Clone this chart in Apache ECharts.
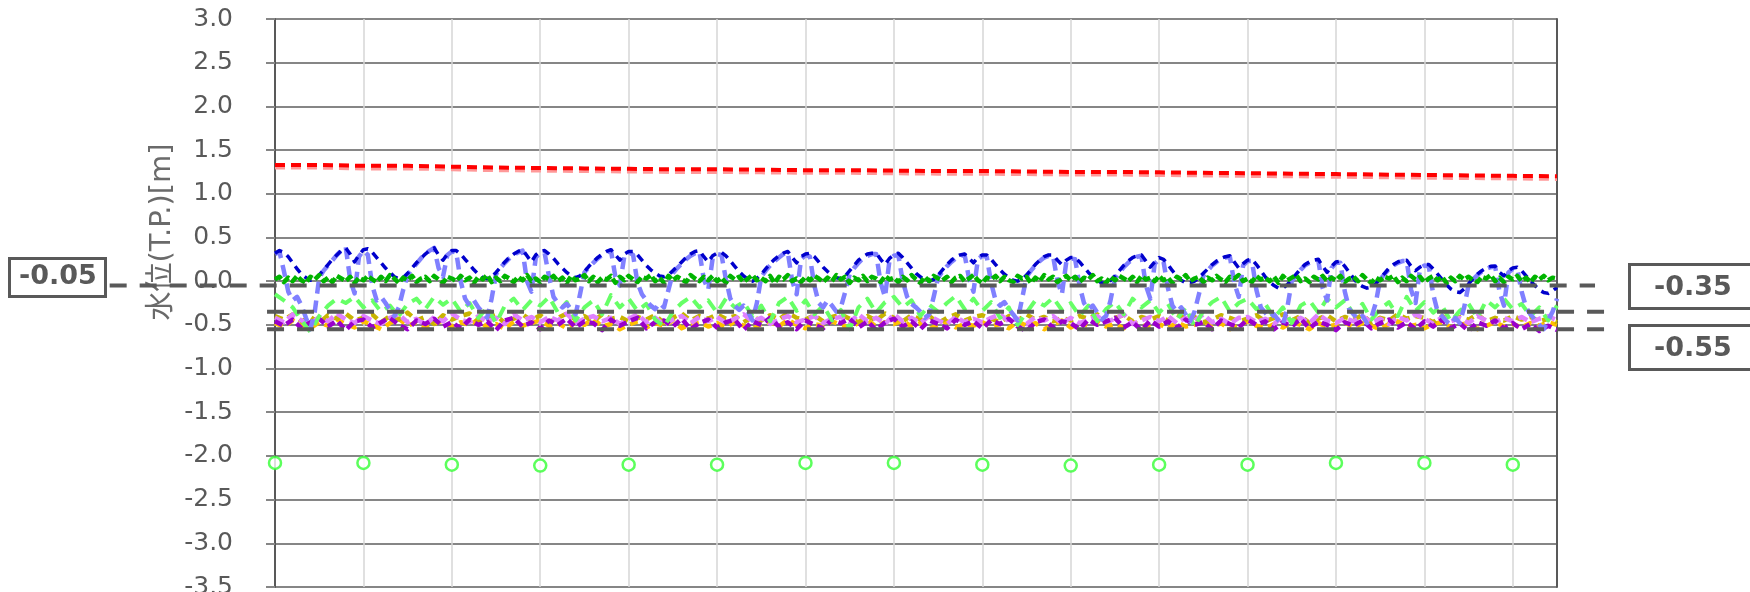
<!DOCTYPE html>
<html>
<head>
<meta charset="utf-8">
<script src="https://cdn.jsdelivr.net/npm/echarts@6/dist/echarts.min.js"></script>
<style>
  html, body { margin: 0; padding: 0; background: #ffffff; }
  #chart { width: 1750px; height: 592px; }
</style>
</head>
<body>
<div id="chart"></div>
<script>
// Sampling interval of the logged series, in days
const FINE_STEP = 0.05;
const COARSE_STEP = 0.1;
const DAILY_STEP = 0.5;

// Y axis range [m]
const Y_MIN = -3.5;
const Y_MAX = 3.0;
const Y_STEP = 0.5;
const X_DAYS = 14.5;
const AXIS_NAME = '水位(T.P.)[m]';

// Reference levels and the stretch (in days) each guide line covers
const refLevels = [-0.05, -0.35, -0.55];
const refSpans = [[-1.87, 14.93], [-0.09, 15.14], [-0.09, 15.14]];

// Upper station (red) and its companion gauge (pink), twice a day
const levelRed = [1.33, 1.33, 1.32, 1.32, 1.31, 1.30, 1.295, 1.29, 1.285, 1.28,
  1.28, 1.275, 1.27, 1.27, 1.265, 1.26, 1.26, 1.255, 1.25, 1.25,
  1.245, 1.24, 1.235, 1.23, 1.225, 1.22, 1.215, 1.21, 1.205, 1.20];
const levelPink = [1.30, 1.30, 1.29, 1.29, 1.28, 1.27, 1.265, 1.26, 1.255, 1.25,
  1.25, 1.245, 1.24, 1.24, 1.235, 1.23, 1.23, 1.225, 1.22, 1.22,
  1.215, 1.21, 1.205, 1.20, 1.195, 1.19, 1.185, 1.18, 1.175, 1.17];

// Tidal gauge (dark blue), every 0.05 day
const levelBlue = [
  0.32, 0.35, 0.33, 0.28, 0.21, 0.14, 0.08, 0.04, 0.01, 0.02, 0.07, 0.13, 0.19, 0.25, 0.30, 0.35, 0.38, 0.31, 0.22, 0.30,
  0.36, 0.37, 0.33, 0.27, 0.21, 0.15, 0.10, 0.05, 0.03, 0.04, 0.09, 0.15, 0.21, 0.26, 0.31, 0.35, 0.38, 0.30, 0.24, 0.31,
  0.35, 0.35, 0.31, 0.25, 0.19, 0.13, 0.08, 0.04, 0.03, 0.05, 0.10, 0.16, 0.22, 0.27, 0.31, 0.34, 0.36, 0.29, 0.22, 0.30,
  0.34, 0.35, 0.31, 0.26, 0.20, 0.15, 0.10, 0.06, 0.04, 0.06, 0.11, 0.17, 0.22, 0.27, 0.31, 0.34, 0.36, 0.30, 0.24, 0.31,
  0.34, 0.34, 0.30, 0.24, 0.18, 0.13, 0.09, 0.06, 0.05, 0.07, 0.12, 0.17, 0.22, 0.27, 0.31, 0.34, 0.35, 0.28, 0.22, 0.29,
  0.32, 0.33, 0.29, 0.23, 0.17, 0.11, 0.06, 0.02, 0.00, 0.03, 0.08, 0.14, 0.20, 0.25, 0.29, 0.32, 0.34, 0.27, 0.21, 0.28,
  0.31, 0.32, 0.28, 0.22, 0.16, 0.11, 0.07, 0.04, 0.03, 0.06, 0.12, 0.18, 0.24, 0.28, 0.31, 0.32, 0.32, 0.25, 0.19, 0.26,
  0.30, 0.32, 0.27, 0.21, 0.15, 0.09, 0.05, 0.01, 0.00, 0.02, 0.07, 0.13, 0.19, 0.24, 0.28, 0.30, 0.31, 0.26, 0.21, 0.27,
  0.30, 0.30, 0.25, 0.19, 0.13, 0.08, 0.04, 0.01, 0.00, 0.02, 0.07, 0.13, 0.19, 0.24, 0.28, 0.30, 0.30, 0.24, 0.19, 0.24,
  0.27, 0.27, 0.22, 0.16, 0.10, 0.05, 0.01, -0.02, -0.02, 0.01, 0.06, 0.12, 0.18, 0.23, 0.27, 0.29, 0.30, 0.23, 0.16, 0.22,
  0.27, 0.25, 0.19, 0.12, 0.06, 0.01, -0.02, -0.02, 0.00, 0.04, 0.09, 0.14, 0.19, 0.23, 0.26, 0.28, 0.29, 0.22, 0.15, 0.20,
  0.24, 0.25, 0.19, 0.12, 0.05, -0.01, -0.05, -0.08, -0.08, -0.04, 0.02, 0.08, 0.14, 0.19, 0.22, 0.24, 0.25, 0.17, 0.10, 0.17,
  0.22, 0.23, 0.17, 0.10, 0.03, -0.03, -0.06, -0.08, -0.07, -0.03, 0.03, 0.09, 0.15, 0.19, 0.22, 0.24, 0.24, 0.17, 0.12, 0.16,
  0.19, 0.19, 0.14, 0.08, 0.02, -0.04, -0.09, -0.12, -0.13, -0.09, -0.03, 0.03, 0.08, 0.12, 0.15, 0.17, 0.17, 0.10, 0.06, 0.12,
  0.15, 0.16, 0.12, 0.06, 0.00, -0.05, -0.10, -0.13, -0.14, -0.11, -0.07
];

// Inner harbour gauge (light blue), every 0.05 day
const levelLightBlue = [
  0.31, 0.34, 0.12, -0.12, -0.22, -0.18, -0.28, -0.42, -0.55, -0.35, 0.04, 0.12, 0.18, 0.24, 0.30, 0.35, 0.39, 0.02, -0.14, 0.28,
  0.35, 0.30, -0.05, -0.22, -0.18, -0.25, -0.33, -0.40, -0.30, -0.10, 0.07, 0.14, 0.20, 0.26, 0.31, 0.35, 0.38, 0.15, 0.05, 0.30,
  0.34, 0.33, 0.00, -0.20, -0.28, -0.22, -0.30, -0.36, -0.42, -0.20, 0.08, 0.15, 0.21, 0.26, 0.30, 0.33, 0.35, 0.00, -0.12, 0.27,
  0.33, 0.32, 0.05, -0.18, -0.25, -0.30, -0.26, -0.32, -0.38, -0.15, 0.10, 0.16, 0.21, 0.26, 0.30, 0.33, 0.35, 0.05, -0.05, 0.28,
  0.33, 0.30, -0.02, -0.15, -0.22, -0.28, -0.32, -0.25, -0.30, -0.10, 0.09, 0.15, 0.20, 0.25, 0.29, 0.32, 0.34, 0.02, -0.10, 0.26,
  0.31, 0.30, 0.02, -0.20, -0.28, -0.33, -0.28, -0.35, -0.45, -0.25, 0.05, 0.12, 0.18, 0.23, 0.27, 0.31, 0.33, 0.00, -0.15, 0.25,
  0.30, 0.28, -0.05, -0.25, -0.30, -0.22, -0.28, -0.35, -0.30, -0.12, 0.08, 0.15, 0.21, 0.26, 0.29, 0.31, 0.31, -0.02, -0.18, 0.24,
  0.29, 0.30, 0.00, -0.18, -0.26, -0.30, -0.35, -0.42, -0.38, -0.18, 0.04, 0.11, 0.17, 0.22, 0.26, 0.29, 0.30, 0.03, -0.12, 0.25,
  0.29, 0.28, -0.02, -0.22, -0.28, -0.24, -0.32, -0.38, -0.45, -0.20, 0.05, 0.12, 0.18, 0.23, 0.27, 0.29, 0.29, 0.00, -0.15, 0.22,
  0.26, 0.25, -0.05, -0.25, -0.32, -0.28, -0.36, -0.44, -0.40, -0.22, 0.03, 0.10, 0.16, 0.21, 0.25, 0.28, 0.29, -0.05, -0.20, 0.20,
  0.25, 0.22, -0.08, -0.28, -0.35, -0.30, -0.38, -0.46, -0.35, -0.15, 0.06, 0.12, 0.18, 0.22, 0.25, 0.27, 0.28, -0.02, -0.18, 0.18,
  0.23, 0.23, -0.10, -0.30, -0.36, -0.42, -0.38, -0.45, -0.50, -0.30, 0.00, 0.07, 0.13, 0.18, 0.21, 0.23, 0.24, -0.08, -0.22, 0.15,
  0.21, 0.21, -0.12, -0.32, -0.38, -0.44, -0.40, -0.48, -0.42, -0.25, 0.02, 0.08, 0.14, 0.18, 0.21, 0.23, 0.23, -0.10, -0.25, 0.14,
  0.18, 0.17, -0.15, -0.35, -0.40, -0.46, -0.50, -0.42, -0.48, -0.30, -0.04, 0.02, 0.07, 0.11, 0.14, 0.16, 0.17, -0.12, -0.28, 0.10,
  0.14, 0.14, -0.12, -0.30, -0.38, -0.44, -0.50, -0.55, -0.45, -0.35, -0.20
];

// Weir gauge (dark green), every 0.05 day
const levelGreen = [
  0.02, 0.05, -0.01, 0.04, 0.00, 0.06, 0.01, -0.02, 0.05, 0.02, 0.07, 0.00, 0.04, -0.01, 0.06, 0.03, 0.00, 0.05, -0.02, 0.04,
  0.01, 0.06, 0.02, -0.01, 0.05, 0.00, 0.07, 0.03, -0.02, 0.04, 0.01, 0.06, -0.01, 0.03, 0.05, 0.00, 0.06, 0.02, -0.02, 0.05,
  0.03, 0.00, 0.06, 0.01, 0.04, -0.02, 0.05, 0.02, 0.07, -0.01, 0.04, 0.00, 0.06, 0.03, -0.01, 0.05, 0.01, 0.07, 0.00, 0.03,
  -0.01, 0.05, 0.02, 0.06, 0.00, 0.04, -0.02, 0.06, 0.01, 0.03, 0.07, 0.00, 0.05, -0.01, 0.04, 0.02, 0.06, -0.02, 0.05, 0.01,
  0.06, 0.02, -0.01, 0.05, 0.03, 0.07, 0.00, 0.04, -0.02, 0.06, 0.01, 0.05, 0.02, -0.01, 0.07, 0.03, 0.00, 0.05, 0.01, 0.06,
  0.00, 0.04, -0.02, 0.06, 0.02, 0.05, -0.01, 0.03, 0.07, 0.01, 0.04, 0.00, 0.06, -0.02, 0.05, 0.02, 0.07, 0.00, 0.03, -0.01,
  0.05, 0.01, 0.06, 0.03, -0.01, 0.04, 0.00, 0.07, 0.02, 0.05, -0.02, 0.04, 0.01, 0.06, 0.00, 0.05, 0.03, -0.01, 0.06, 0.02,
  0.04, -0.01, 0.05, 0.01, 0.07, 0.02, -0.02, 0.05, 0.00, 0.06, 0.03, 0.01, 0.05, -0.01, 0.04, 0.06, 0.00, 0.03, 0.07, 0.01,
  -0.02, 0.04, 0.02, 0.06, 0.00, 0.05, 0.01, -0.01, 0.06, 0.03, 0.05, -0.02, 0.04, 0.00, 0.07, 0.02, 0.05, -0.01, 0.03, 0.06,
  0.01, 0.05, -0.01, 0.04, 0.02, 0.07, 0.00, 0.03, -0.02, 0.05, 0.01, 0.06, 0.03, 0.00, 0.05, -0.01, 0.06, 0.02, 0.04, 0.00,
  0.06, 0.01, 0.04, -0.02, 0.05, 0.02, 0.07, 0.00, 0.03, 0.05, -0.01, 0.04, 0.01, 0.06, 0.02, -0.01, 0.05, 0.03, 0.07, 0.00,
  0.03, -0.01, 0.06, 0.02, 0.04, 0.00, 0.05, -0.02, 0.06, 0.01, 0.04, 0.07, 0.00, 0.03, -0.01, 0.05, 0.02, 0.06, 0.00, 0.04,
  0.01, 0.06, -0.01, 0.03, 0.05, 0.00, 0.07, 0.02, -0.02, 0.04, 0.01, 0.05, 0.03, 0.06, -0.01, 0.04, 0.00, 0.06, 0.02, 0.05,
  -0.01, 0.03, 0.06, 0.01, 0.05, -0.02, 0.04, 0.00, 0.06, 0.02, 0.05, 0.01, -0.01, 0.05, 0.03, 0.07, 0.00, 0.04, -0.01, 0.05,
  0.02, 0.06, 0.00, 0.04, -0.01, 0.05, 0.02, 0.06, 0.01, 0.04, 0.03
];

// Drainage channel (light green), every 0.1 day
const levelLightGreen = [
  -0.15, -0.22, -0.30, -0.45, -0.58, -0.40, -0.28, -0.20, -0.25, -0.18,
  -0.30, -0.22, -0.35, -0.28, -0.40, -0.26, -0.20, -0.32, -0.18, -0.27,
  -0.20, -0.35, -0.25, -0.42, -0.30, -0.48, -0.28, -0.20, -0.33, -0.22,
  -0.28, -0.18, -0.36, -0.24, -0.45, -0.30, -0.22, -0.38, -0.16, -0.30,
  -0.20, -0.34, -0.26, -0.44, -0.52, -0.35, -0.25, -0.18, -0.30, -0.22,
  -0.36, -0.20, -0.30, -0.24, -0.40, -0.28, -0.46, -0.25, -0.18, -0.34,
  -0.22, -0.38, -0.28, -0.45, -0.33, -0.55, -0.30, -0.20, -0.36, -0.24,
  -0.18, -0.30, -0.22, -0.40, -0.27, -0.35, -0.25, -0.17, -0.32, -0.20,
  -0.34, -0.24, -0.42, -0.30, -0.50, -0.36, -0.22, -0.28, -0.19, -0.33,
  -0.25, -0.40, -0.28, -0.46, -0.32, -0.24, -0.38, -0.20, -0.30, -0.22,
  -0.36, -0.26, -0.44, -0.30, -0.52, -0.34, -0.24, -0.18, -0.35, -0.25,
  -0.20, -0.32, -0.26, -0.42, -0.30, -0.48, -0.28, -0.22, -0.36, -0.20,
  -0.30, -0.22, -0.38, -0.26, -0.44, -0.32, -0.24, -0.40, -0.18, -0.34,
  -0.24, -0.36, -0.28, -0.46, -0.34, -0.26, -0.42, -0.22, -0.30, -0.20,
  -0.32, -0.26, -0.40, -0.30, -0.45, -0.28
];

// Lowland gauges, every 0.1 day
const levelPurple = [
  -0.46, -0.51, -0.44, -0.54, -0.47, -0.43, -0.52, -0.45, -0.56, -0.46,
  -0.44, -0.53, -0.47, -0.42, -0.50, -0.55, -0.45, -0.49, -0.43, -0.52,
  -0.47, -0.54, -0.44, -0.50, -0.46, -0.56, -0.45, -0.42, -0.52, -0.47,
  -0.55, -0.45, -0.50, -0.43, -0.53, -0.46, -0.48, -0.56, -0.44, -0.51,
  -0.46, -0.42, -0.54, -0.47, -0.45, -0.52, -0.43, -0.55, -0.48, -0.44,
  -0.53, -0.47, -0.44, -0.56, -0.46, -0.50, -0.42, -0.52, -0.47, -0.55,
  -0.45, -0.50, -0.54, -0.44, -0.48, -0.43, -0.53, -0.46, -0.56, -0.47,
  -0.43, -0.52, -0.46, -0.55, -0.45, -0.49, -0.54, -0.44, -0.50, -0.46,
  -0.54, -0.45, -0.49, -0.43, -0.52, -0.57, -0.47, -0.44, -0.53, -0.46,
  -0.48, -0.55, -0.44, -0.50, -0.46, -0.42, -0.53, -0.47, -0.56, -0.45,
  -0.52, -0.46, -0.54, -0.44, -0.50, -0.47, -0.55, -0.45, -0.49, -0.53,
  -0.44, -0.50, -0.46, -0.55, -0.47, -0.52, -0.43, -0.54, -0.46, -0.50,
  -0.56, -0.47, -0.51, -0.45, -0.54, -0.48, -0.44, -0.53, -0.47, -0.55,
  -0.46, -0.52, -0.44, -0.54, -0.48, -0.57, -0.47, -0.51, -0.45, -0.54,
  -0.48, -0.55, -0.49, -0.57, -0.51, -0.56
];
const levelViolet = [
  -0.42, -0.47, -0.38, -0.45, -0.49, -0.41, -0.46, -0.37, -0.44, -0.48,
  -0.40, -0.45, -0.49, -0.42, -0.38, -0.47, -0.43, -0.50, -0.41, -0.46,
  -0.37, -0.44, -0.47, -0.40, -0.46, -0.42, -0.49, -0.38, -0.45, -0.41,
  -0.47, -0.41, -0.45, -0.37, -0.48, -0.43, -0.40, -0.46, -0.42, -0.49,
  -0.43, -0.38, -0.47, -0.42, -0.50, -0.44, -0.40, -0.48, -0.41, -0.46,
  -0.41, -0.48, -0.43, -0.38, -0.46, -0.42, -0.49, -0.44, -0.40, -0.47,
  -0.44, -0.40, -0.48, -0.43, -0.41, -0.47, -0.38, -0.46, -0.42, -0.49,
  -0.38, -0.46, -0.42, -0.48, -0.40, -0.45, -0.49, -0.41, -0.47, -0.43,
  -0.47, -0.42, -0.38, -0.46, -0.43, -0.49, -0.41, -0.45, -0.40, -0.48,
  -0.42, -0.48, -0.44, -0.40, -0.47, -0.43, -0.38, -0.49, -0.45, -0.41,
  -0.46, -0.40, -0.48, -0.42, -0.45, -0.38, -0.47, -0.43, -0.49, -0.42,
  -0.41, -0.47, -0.43, -0.49, -0.40, -0.46, -0.42, -0.48, -0.38, -0.45,
  -0.48, -0.42, -0.46, -0.40, -0.47, -0.43, -0.49, -0.41, -0.45, -0.38,
  -0.43, -0.49, -0.41, -0.46, -0.42, -0.48, -0.40, -0.45, -0.47, -0.42,
  -0.46, -0.41, -0.47, -0.43, -0.40, -0.45
];
const levelOrange = [
  -0.48, -0.52, -0.45, -0.50, -0.54, -0.47, -0.51, -0.44, -0.49, -0.53,
  -0.46, -0.50, -0.55, -0.48, -0.43, -0.51, -0.47, -0.53, -0.49, -0.45,
  -0.52, -0.47, -0.50, -0.44, -0.53, -0.49, -0.55, -0.46, -0.51, -0.48,
  -0.45, -0.51, -0.48, -0.54, -0.47, -0.50, -0.43, -0.52, -0.49, -0.55,
  -0.50, -0.46, -0.53, -0.48, -0.51, -0.45, -0.54, -0.49, -0.47, -0.52,
  -0.48, -0.53, -0.46, -0.51, -0.55, -0.49, -0.47, -0.52, -0.44, -0.50,
  -0.54, -0.49, -0.51, -0.46, -0.50, -0.53, -0.48, -0.45, -0.52, -0.47,
  -0.49, -0.45, -0.52, -0.48, -0.55, -0.50, -0.46, -0.53, -0.49, -0.51,
  -0.47, -0.52, -0.49, -0.54, -0.46, -0.51, -0.48, -0.55, -0.50, -0.45,
  -0.53, -0.48, -0.51, -0.46, -0.52, -0.49, -0.54, -0.47, -0.50, -0.53,
  -0.49, -0.54, -0.47, -0.52, -0.50, -0.45, -0.53, -0.48, -0.55, -0.51,
  -0.46, -0.51, -0.54, -0.49, -0.53, -0.47, -0.50, -0.55, -0.48, -0.52,
  -0.50, -0.47, -0.53, -0.48, -0.51, -0.55, -0.49, -0.46, -0.52, -0.50,
  -0.54, -0.49, -0.47, -0.53, -0.50, -0.48, -0.55, -0.51, -0.47, -0.52,
  -0.49, -0.53, -0.48, -0.51, -0.47, -0.50
];
const levelOlive = [
  -0.40, -0.44, -0.38, -0.46, -0.41, -0.48, -0.39, -0.43, -0.37, -0.45,
  -0.42, -0.38, -0.47, -0.40, -0.44, -0.36, -0.45, -0.41, -0.49, -0.39,
  -0.44, -0.40, -0.37, -0.46, -0.42, -0.39, -0.48, -0.43, -0.38, -0.45,
  -0.39, -0.47, -0.42, -0.37, -0.44, -0.40, -0.46, -0.38, -0.43, -0.41,
  -0.46, -0.41, -0.44, -0.39, -0.48, -0.42, -0.37, -0.45, -0.40, -0.43,
  -0.38, -0.43, -0.40, -0.47, -0.41, -0.45, -0.39, -0.44, -0.36, -0.42,
  -0.44, -0.39, -0.46, -0.41, -0.38, -0.43, -0.47, -0.40, -0.45, -0.37,
  -0.42, -0.46, -0.39, -0.44, -0.40, -0.48, -0.42, -0.38, -0.45, -0.41,
  -0.39, -0.43, -0.47, -0.40, -0.45, -0.38, -0.44, -0.41, -0.46, -0.42,
  -0.45, -0.40, -0.43, -0.38, -0.47, -0.42, -0.39, -0.46, -0.41, -0.44,
  -0.40, -0.45, -0.38, -0.43, -0.41, -0.47, -0.44, -0.39, -0.42, -0.46,
  -0.43, -0.39, -0.46, -0.42, -0.38, -0.45, -0.40, -0.48, -0.43, -0.39,
  -0.46, -0.41, -0.44, -0.39, -0.47, -0.42, -0.45, -0.38, -0.43, -0.40,
  -0.42, -0.47, -0.40, -0.45, -0.41, -0.44, -0.38, -0.46, -0.42, -0.45,
  -0.40, -0.44, -0.41, -0.46, -0.43, -0.47
];

// Channel bed survey points, one per day
const bedDays = [0, 1, 2, 3, 4, 5, 6, 7, 8, 9, 10, 11, 12, 13, 14];
const bedLevels = [-2.08, -2.08, -2.10, -2.11, -2.10, -2.10, -2.08, -2.08, -2.10, -2.11, -2.10, -2.10, -2.08, -2.08, -2.10];

const FONT = '"DejaVu Sans", Verdana, "Noto Sans CJK JP", sans-serif';
const INK = '#595959';

// Plot frame layout (px)
const CHART_W = 1750;
const PLOT_LEFT = 275;
const PLOT_RIGHT = 193;
const PX_PER_DAY = (CHART_W - PLOT_LEFT - PLOT_RIGHT) / X_DAYS;

function pairs(values, step) {
  return values.map((v, i) => [Math.round(i * step * 1000) / 1000, v]);
}

function dashedLine(values, step, color, width, dash, z) {
  return {
    type: 'line',
    data: pairs(values, step),
    symbol: 'none',
    silent: true,
    z: z,
    lineStyle: { color: color, width: width, type: dash, cap: 'butt', join: 'round' },
    emphasis: { disabled: true }
  };
}

const series = [
  dashedLine(levelOrange, COARSE_STEP, '#ffc000', 4.5, [8, 6], 2),
  dashedLine(levelOlive, COARSE_STEP, '#c8b400', 4.5, [8, 6], 2),
  dashedLine(levelViolet, COARSE_STEP, '#e080ff', 4.5, [10, 5], 2),
  dashedLine(levelPurple, COARSE_STEP, '#9900cc', 4.5, [8, 5], 2),
  dashedLine(levelLightGreen, COARSE_STEP, '#66ff66', 4, [12, 8], 3),
  dashedLine(levelLightBlue, FINE_STEP, '#8080ff', 4.5, [12, 7], 3),
  dashedLine(levelBlue, FINE_STEP, '#0000cc', 3.5, [8, 6], 4),
  dashedLine(levelGreen, FINE_STEP, '#00b400', 4.5, [8, 3], 4),
  dashedLine(levelPink, DAILY_STEP, '#ff9999', 4, [10, 6], 4),
  dashedLine(levelRed, DAILY_STEP, '#ff0000', 4, [10, 6], 5),
  {
    type: 'scatter',
    data: bedDays.map((d, i) => [d, bedLevels[i]]),
    symbol: 'circle',
    symbolSize: 12,
    silent: true,
    z: 6,
    itemStyle: { color: '#ffffff', borderColor: '#33ff33', borderWidth: 2.5 }
  }
];

// Guide lines for the reference levels, on a full-width overlay grid that
// shares the day scale, so they can run past the plot frame
refLevels.forEach((lv, i) => {
  series.push({
    type: 'line',
    xAxisIndex: 1,
    yAxisIndex: 2,
    data: [[refSpans[i][0], lv], [refSpans[i][1], lv]],
    symbol: 'none',
    silent: true,
    z: 10,
    lineStyle: { color: INK, width: 4, type: [17, 13], cap: 'butt' }
  });
});

function levelText(v) { return v.toFixed(2); }

// Level tags: one on the left, two stacked on the right
const tags = [
  { rect: [9.5, 258.5, 96, 38], text: [58, 277], level: refLevels[0] },
  { rect: [1629.5, 264.5, 140, 44], text: [1693, 288], level: refLevels[1] },
  { rect: [1629.5, 325.5, 140, 44], text: [1693, 349], level: refLevels[2] }
];
const graphic = [];
tags.forEach(t => {
  graphic.push({
    type: 'rect', z: 100,
    shape: { x: t.rect[0], y: t.rect[1], width: t.rect[2], height: t.rect[3] },
    style: { fill: '#ffffff', stroke: INK, lineWidth: 3 }
  });
  graphic.push({
    type: 'text', z: 101, x: t.text[0], y: t.text[1],
    style: { text: levelText(t.level), font: 'bold 27px "DejaVu Sans", Verdana, sans-serif', fill: INK, align: 'center', verticalAlign: 'middle' }
  });
});
graphic.push({
  type: 'text', z: 1, x: 162, y: 232, rotation: Math.PI / 2,
  style: { text: AXIS_NAME, font: '29px ' + FONT, fill: '#6a6a6a', align: 'center', verticalAlign: 'middle' }
});

const hiddenAxis = {
  show: false, axisLine: { show: false }, axisTick: { show: false },
  axisLabel: { show: false }, splitLine: { show: false }
};

const chart = echarts.init(document.getElementById('chart'));
chart.setOption({
  animation: false,
  backgroundColor: '#ffffff',
  grid: [
    { left: PLOT_LEFT, right: PLOT_RIGHT, top: 19, bottom: 5, containLabel: false, outerBoundsMode: 'none' },
    { left: 0, right: 0, top: 19, bottom: 5, containLabel: false, outerBoundsMode: 'none' }
  ],
  xAxis: [
    {
      type: 'value', gridIndex: 0, min: 0, max: X_DAYS, interval: 1,
      axisLine: { show: false }, axisTick: { show: false }, axisLabel: { show: false },
      splitLine: { show: true, lineStyle: { color: '#d6d6d6', width: 1.5 } }
    },
    Object.assign({
      type: 'value', gridIndex: 1,
      min: -PLOT_LEFT / PX_PER_DAY,
      max: (CHART_W - PLOT_LEFT) / PX_PER_DAY
    }, hiddenAxis)
  ],
  yAxis: [
    {
      type: 'value', gridIndex: 0, min: Y_MIN, max: Y_MAX, interval: Y_STEP, position: 'left',
      axisLine: { show: true, lineStyle: { color: INK, width: 2 } },
      axisTick: { show: true, length: 9, lineStyle: { color: '#868686', width: 2 } },
      axisLabel: {
        margin: 42, color: INK, fontSize: 25, fontFamily: FONT,
        formatter: v => v.toFixed(1)
      },
      splitLine: { show: true, lineStyle: { color: '#868686', width: 2 } }
    },
    {
      type: 'value', gridIndex: 0, min: Y_MIN, max: Y_MAX, interval: Y_STEP, position: 'right',
      axisLine: { show: true, lineStyle: { color: INK, width: 2 } },
      axisTick: { show: false }, axisLabel: { show: false }, splitLine: { show: false }
    },
    Object.assign({ type: 'value', gridIndex: 1, min: Y_MIN, max: Y_MAX }, hiddenAxis)
  ],
  graphic: graphic,
  series: series
});
</script>
</body>
</html>
